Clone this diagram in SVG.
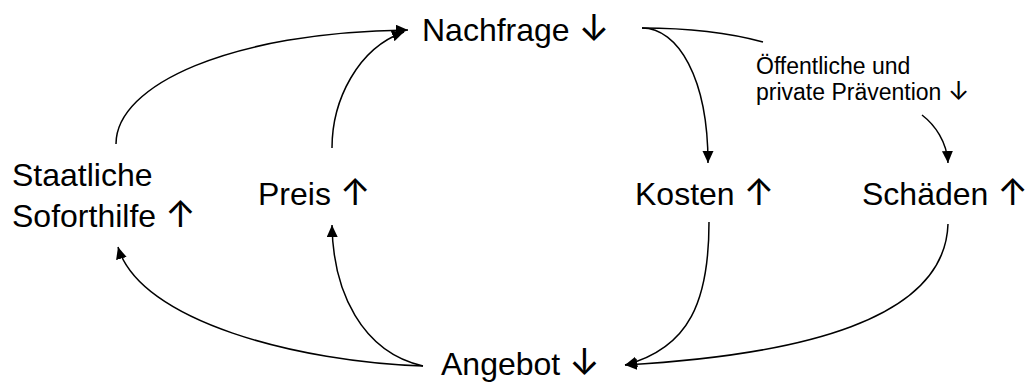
<svg xmlns="http://www.w3.org/2000/svg" width="1032" height="382" viewBox="0 0 1032 382">
<style>
.t{font-family:"Liberation Sans",Arial,sans-serif;font-size:32px;fill:#000}
.s{font-family:"Liberation Sans",Arial,sans-serif;font-size:23px;fill:#000}
.a{font-family:Inter,"DejaVu Sans",sans-serif;font-size:37px;font-weight:400;fill:#000}
.as{font-family:Inter,"DejaVu Sans",sans-serif;font-size:26px;font-weight:400;fill:#000}
.c{fill:none;stroke:#000;stroke-width:1.5}
</style>
<defs>
<marker id="ah" markerUnits="userSpaceOnUse" markerWidth="13" markerHeight="12" refX="12" refY="5.5" orient="auto">
<path d="M0,0 L12,5.5 L0,11 z" fill="#000"/>
</marker>
</defs>
<rect width="1032" height="382" fill="#fff"/>
<g id="connectors">
<path class="c" d="M116,144 C116,85 230,32 408,30" marker-end="url(#ah)"/>
<path class="c" d="M332,148 C332,100 358,48 404,32" marker-end="url(#ah)"/>
<path class="c" d="M642,28 C678,28 708,78 708,163" marker-end="url(#ah)"/>
<path class="c" d="M642,28 C690,28 730,33 763,42"/>
<path class="c" d="M922,115 C935,125 947,142 948,163" marker-end="url(#ah)"/>
<path class="c" d="M709,222 C709,300 690,348 625,365" marker-end="url(#ah)"/>
<path class="c" d="M948,224 C945,320 800,355 625,365" marker-end="url(#ah)"/>
<path class="c" d="M423,366 C362,352 333,292 332,225" marker-end="url(#ah)"/>
<path class="c" d="M423,366 C300,362 140,322 118,247" marker-end="url(#ah)"/>
</g>
<g id="nachfrage"><text class="t" x="422" y="41">Nachfrage <tspan class="a">↓</tspan></text></g>
<g id="staatliche-soforthilfe"><text class="t" x="12" y="186">Staatliche</text><text class="t" x="12" y="227">Soforthilfe <tspan class="a">↑</tspan></text></g>
<g id="preis"><text class="t" x="258" y="205">Preis <tspan class="a">↑</tspan></text></g>
<g id="kosten"><text class="t" x="635" y="205">Kosten <tspan class="a">↑</tspan></text></g>
<g id="schaeden"><text class="t" x="862" y="205">Schäden <tspan class="a">↑</tspan></text></g>
<g id="angebot"><text class="t" x="441" y="375">Angebot <tspan class="a">↓</tspan></text></g>
<g id="praevention"><text class="s" x="756" y="74">Öffentliche und</text><text class="s" x="756" y="100">private Prävention <tspan class="as">↓</tspan></text></g>
</svg>
